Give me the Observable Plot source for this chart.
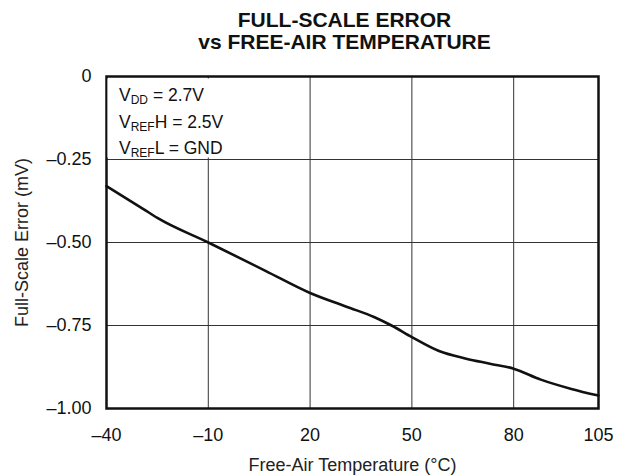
<!DOCTYPE html>
<html>
<head>
<meta charset="utf-8">
<script src="https://cdn.jsdelivr.net/npm/d3@7"></script>
<script src="https://cdn.jsdelivr.net/npm/@observablehq/plot@0.6"></script>
<style>
  html, body { margin: 0; padding: 0; background: white; }
  #title {
    box-sizing: border-box; width: 623px; height: 60px;
    padding-top: 9px; padding-left: 66px;
    text-align: center; font-family: "Liberation Sans", Arial, sans-serif;
    font-weight: bold; font-size: 21px; line-height: 22px; color: #111;
  }
  svg { display: block; }
</style>
</head>
<body>
<div id="title">FULL-SCALE ERROR<br>vs FREE-AIR TEMPERATURE</div>
<div id="chart"></div>
<script>
// Data
const temps = [-40, -29, -25, -10, 7, 20, 29, 32, 39, 44, 50, 58, 66, 73, 80, 88, 97, 105];
const errors = [-0.33, -0.40, -0.426, -0.50, -0.586, -0.652, -0.687, -0.698, -0.725, -0.75, -0.785, -0.827, -0.85, -0.865, -0.88, -0.913, -0.941, -0.961];
const xTicks = [-40, -10, 20, 50, 80, 105];
const yTicks = [0, -0.25, -0.5, -0.75, -1];
const xGrid = [-10, 20, 50, 80];
const yGrid = [-0.25, -0.5, -0.75];
const xLabel = "Free-Air Temperature (°C)";
const yLabel = "Full-Scale Error (mV)";
// annotation lines: [main, subscript, rest]
const annotLines = [["V", "DD", " = 2.7V"], ["V", "REF", "H = 2.5V"], ["V", "REF", "L = GND"]];

const data = temps.map((t, i) => ({t, e: errors[i]}));
const fmtX = d => d < 0 ? "\u2013" + Math.abs(d) : String(d);
const fmtY = d => d === 0 ? "0" : "\u2013" + Math.abs(d).toFixed(2);

const chart = Plot.plot({
  width: 623, height: 416,
  marginLeft: 106, marginRight: 25, marginTop: 16, marginBottom: 68,
  style: {fontFamily: "'Liberation Sans', Arial, sans-serif", fontSize: "18px", color: "#111", background: "white"},
  x: {domain: [-40, 105], ticks: xTicks, tickFormat: fmtX, tickSize: 0, tickPadding: 20, label: null},
  y: {domain: [-1, 0], ticks: yTicks, tickFormat: fmtY, tickSize: 0, tickPadding: 15, label: null},
  marks: [
    Plot.ruleX(xGrid, {stroke: "#333", strokeWidth: 1}),
    Plot.ruleY(yGrid, {stroke: "#333", strokeWidth: 1}),
    Plot.line(data, {x: "t", y: "e", curve: "monotone-x", stroke: "#111", strokeWidth: 2.6}),
    Plot.frame({stroke: "#111", strokeWidth: 2.5}),
    Plot.text([yLabel], {text: d => d, frameAnchor: "left", textAnchor: "middle", rotate: -90, lineAnchor: "bottom", dx: -78.5, fill: "#222"}),
    Plot.text([xLabel], {text: d => d, frameAnchor: "bottom", textAnchor: "middle", lineAnchor: "bottom", dy: 62, fill: "#222"})
  ]
});
document.getElementById("chart").appendChild(chart);

// Annotation box with subscripts
const sx = chart.scale("x"), sy = chart.scale("y");
const svgSel = d3.select(chart);
const annG = svgSel.append("g");
const annRect = annG.append("rect").attr("fill", "white");
const annX0 = sx.apply(-40) + 13;
const annBase0 = sy.apply(0) + 25;
const annTexts = annG.append("g")
  .attr("font-family", "'Liberation Sans', Arial, sans-serif")
  .attr("text-anchor", "start")
  .attr("font-size", 17.5).attr("fill", "#111");
annotLines.forEach((parts, i) => {
  const t = annTexts.append("text").attr("x", annX0).attr("y", annBase0 + i * 26.5);
  t.append("tspan").text(parts[0]);
  t.append("tspan").attr("font-size", 12).attr("dy", 3).text(parts[1]);
  t.append("tspan").attr("dy", -3).text(parts[2]);
});
const annBB = annTexts.node().getBBox();
const boxTop = sy.apply(0) + 2.5;
const boxLeft = sx.apply(-40) + 1.5;
const boxBottom = Math.min(annBB.y + annBB.height + 1, sy.apply(-0.25) - 1.5);
annRect.attr("x", boxLeft).attr("y", boxTop)
  .attr("width", annBB.x + annBB.width + 6 - boxLeft)
  .attr("height", boxBottom - boxTop);
</script>
</body>
</html>
